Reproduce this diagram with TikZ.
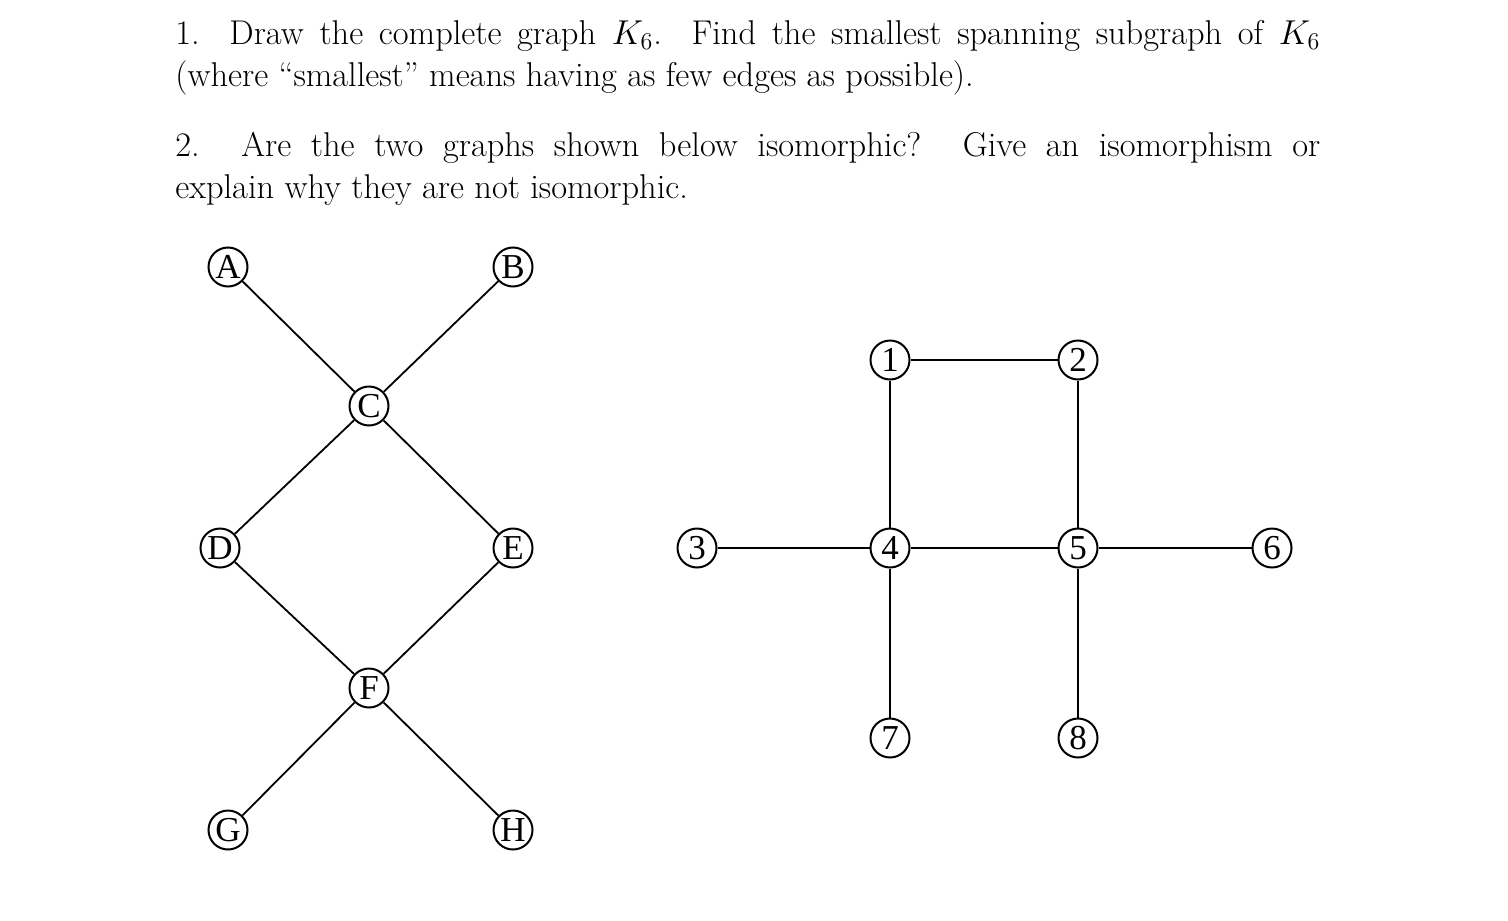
\documentclass[tikz,border=0pt]{standalone}
\usepackage{fontspec}
\newfontfamily\vfont{Liberation Serif}
\begin{document}
\begin{tikzpicture}[x=0.5pt,y=-0.5pt,
  v/.style={circle,draw,line width=1pt,inner sep=0pt,minimum size=19.5pt,font=\vfont\fontsize{17.5}{17}\selectfont},
  e/.style={line width=0.9pt}]
\useasboundingbox (0,0) rectangle (1508,920);
\node[anchor=north west,inner sep=0pt,text width=572.5pt,align=justify,font=\fontsize{17.2}{21}\selectfont] (t) at (175,20) {%
1. Draw the complete graph $K_6$. Find the smallest spanning subgraph of $K_6$\linebreak (where ``smallest'' means having as few edges as possible).\par\vspace{14pt}
2. Are the two graphs shown below isomorphic? Give an isomorphism or\linebreak explain why they are not isomorphic.\par};
\node[v] (A) at (228,267) {A};
\node[v] (B) at (513,267) {B};
\node[v] (C) at (369,406) {C};
\node[v] (D) at (220,548) {D};
\node[v] (E) at (513,548) {E};
\node[v] (F) at (369,688) {F};
\node[v] (G) at (228,830) {G};
\node[v] (H) at (513,830) {H};
\draw[e] (A)--(C) (B)--(C) (C)--(D) (C)--(E) (D)--(F) (E)--(F) (F)--(G) (F)--(H);
\node[v] (n1) at (890,360) {1};
\node[v] (n2) at (1078,360) {2};
\node[v] (n3) at (697,548) {3};
\node[v] (n4) at (890,548) {4};
\node[v] (n5) at (1078,548) {5};
\node[v] (n6) at (1272,548) {6};
\node[v] (n7) at (890,738) {7};
\node[v] (n8) at (1078,738) {8};
\draw[e] (n1)--(n2) (n1)--(n4) (n2)--(n5) (n3)--(n4) (n4)--(n5) (n5)--(n6) (n4)--(n7) (n5)--(n8);
\end{tikzpicture}
\end{document}
